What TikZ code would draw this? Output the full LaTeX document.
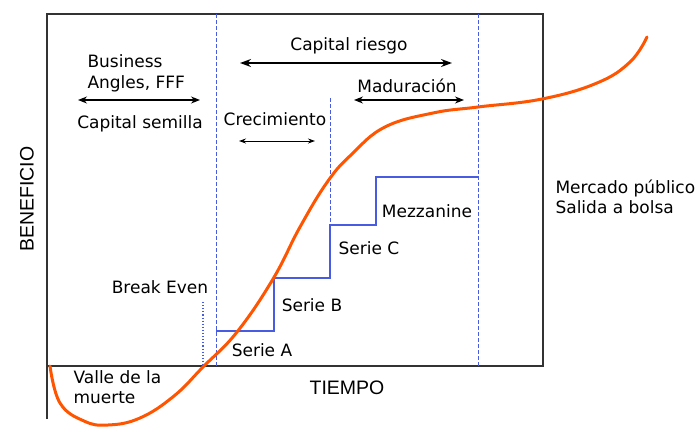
\documentclass[tikz,border=0pt]{standalone}
\usepackage{fontspec}
\setmainfont{DejaVu Sans}
\newfontfamily\axisfont{Liberation Sans}
\usetikzlibrary{arrows.meta}
\definecolor{curveorange}{RGB}{255,85,0}
\definecolor{seriesblue}{RGB}{72,92,225}
\begin{document}
\begin{tikzpicture}[x=1pt,y=-1pt,font=\fontsize{17}{20}\selectfont,
  axislabel/.style={font=\axisfont\fontsize{19.5}{22}\selectfont},
  span/.style={{Stealth[length=9pt,width=7pt]}-{Stealth[length=9pt,width=7pt]},line width=1.2pt},
  phase/.style={seriesblue,dash pattern=on 4pt off 2pt,line width=0.9pt}]
\useasboundingbox (0,0) rectangle (700,434);
% frame and axes
\draw[line width=1.6pt,black!80] (47,419) -- (47,14) -- (543,14) -- (543,366) -- (47,366);
% phases
\draw[phase] (216,14) -- (216,366);
\draw[phase] (330,98) -- (330,225);
\draw[phase] (478,14) -- (478,366);
\draw[seriesblue,dotted,line width=1.1pt] (203,302) -- (203,366);
% funding rounds
\draw[seriesblue,line width=1.3pt] (216,331) -| (274,278) -| (330,225) -| (376,177) -- (478,177);
% labels
\node[align=left,anchor=west,font=\fontsize{17}{21}\selectfont] (angels) at (84,73) {Business\\Angles, FFF};
\node (semilla) at (140,124) {Capital semilla};
\node (crec) at (275,119) {Crecimiento};
\node (riesgo) at (349,46) {Capital riesgo};
\node (madur) at (407,86) {Maduración};
\node (mezz) at (427,211) {Mezzanine};
\node (serieC) at (369,248) {Serie C};
\node (serieB) at (312,305) {Serie B};
\node (serieA) at (262,350) {Serie A};
\node (breakeven) at (160,287) {Break Even};
\node[align=left,anchor=west] (valle) at (70,387) {Valle de la\\muerte};
\node[align=left,anchor=west] (mercado) at (552,197) {Mercado público\\Salida a bolsa};
\node[axislabel] (tiempo) at (347,388) {TIEMPO};
\node[axislabel,rotate=90] (beneficio) at (27,199) {BENEFICIO};
% spans
\coordinate (semillaL) at (78,100);
\coordinate (semillaR) at (200,100);
\coordinate (crecL) at (239,141);
\coordinate (crecR) at (315,141);
\coordinate (riesgoL) at (240,63);
\coordinate (riesgoR) at (452,63);
\coordinate (madurL) at (354,100);
\coordinate (madurR) at (464,100);
\draw[span] (semillaL) -- (semillaR);
\draw[span,line width=0.9pt,{Stealth[length=7pt,width=5pt]}-{Stealth[length=7pt,width=5pt]}] (crecL) -- (crecR);
\draw[span,line width=1.5pt,{Stealth[length=11pt,width=8pt]}-{Stealth[length=11pt,width=8pt]}] (riesgoL) -- (riesgoR);
\draw[span] (madurL) -- (madurR);
% profit curve
\draw[curveorange,line width=3pt,line cap=round] plot[smooth,tension=0.7] coordinates {(50,366) (60,403) (84,421) (108,425) (140,418) (174,396) (203,367) (237,332) (273,279) (300,227) (328,181) (352,154) (385,127) (433,113) (478,107) (542,99) (597,83) (630,62) (647,37)};
\end{tikzpicture}
\end{document}
